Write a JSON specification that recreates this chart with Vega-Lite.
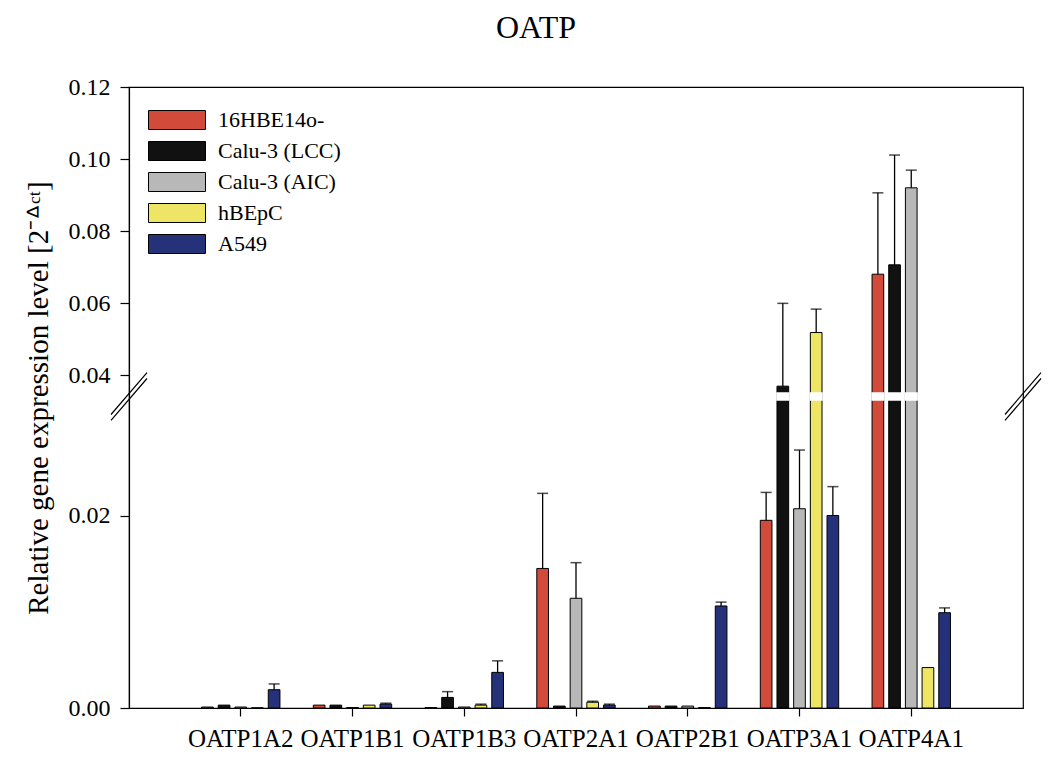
{
  "$schema": "https://vega.github.io/schema/vega-lite/v6.json",
  "autosize": "none",
  "padding": {"left": 129, "top": 87, "right": 27, "bottom": 50},
  "width": 894,
  "height": 621,
  "background": "white",
  "config": {
    "font": "Liberation Serif",
    "view": {"stroke": "black", "strokeWidth": 1.2},
    "axis": {"grid": false, "domainColor": "black", "tickColor": "black", "labelColor": "black", "titleColor": "black", "domainWidth": 1.2, "tickWidth": 1.2}
  },
  "title": {"text": "OATP", "fontSize": 32, "fontWeight": "normal", "font": "Liberation Serif", "color": "black", "anchor": "middle", "dx": -40, "offset": 30},
  "datasets": {
    "bars": [
      {"gene": "OATP1A2", "cell": "16HBE14o-", "value": 0.0001, "upper": null},
      {"gene": "OATP1A2", "cell": "Calu-3 (LCC)", "value": 0.0003, "upper": null},
      {"gene": "OATP1A2", "cell": "Calu-3 (AIC)", "value": 0.0001, "upper": null},
      {"gene": "OATP1A2", "cell": "hBEpC", "value": 0.00002, "upper": null},
      {"gene": "OATP1A2", "cell": "A549", "value": 0.0019, "upper": 0.0025},
      {"gene": "OATP1B1", "cell": "16HBE14o-", "value": 0.0003, "upper": null},
      {"gene": "OATP1B1", "cell": "Calu-3 (LCC)", "value": 0.0003, "upper": null},
      {"gene": "OATP1B1", "cell": "Calu-3 (AIC)", "value": 0.00005, "upper": null},
      {"gene": "OATP1B1", "cell": "hBEpC", "value": 0.0003, "upper": null},
      {"gene": "OATP1B1", "cell": "A549", "value": 0.0004, "upper": 0.0005},
      {"gene": "OATP1B3", "cell": "16HBE14o-", "value": 0.00005, "upper": null},
      {"gene": "OATP1B3", "cell": "Calu-3 (LCC)", "value": 0.0011, "upper": 0.0017},
      {"gene": "OATP1B3", "cell": "Calu-3 (AIC)", "value": 0.0001, "upper": null},
      {"gene": "OATP1B3", "cell": "hBEpC", "value": 0.0003, "upper": 0.0004},
      {"gene": "OATP1B3", "cell": "A549", "value": 0.0037, "upper": 0.0049},
      {"gene": "OATP2A1", "cell": "16HBE14o-", "value": 0.0145, "upper": 0.0223},
      {"gene": "OATP2A1", "cell": "Calu-3 (LCC)", "value": 0.0002, "upper": null},
      {"gene": "OATP2A1", "cell": "Calu-3 (AIC)", "value": 0.0114, "upper": 0.0151},
      {"gene": "OATP2A1", "cell": "hBEpC", "value": 0.0006, "upper": 0.0007},
      {"gene": "OATP2A1", "cell": "A549", "value": 0.0003, "upper": 0.0004},
      {"gene": "OATP2B1", "cell": "16HBE14o-", "value": 0.0002, "upper": null},
      {"gene": "OATP2B1", "cell": "Calu-3 (LCC)", "value": 0.0002, "upper": null},
      {"gene": "OATP2B1", "cell": "Calu-3 (AIC)", "value": 0.0002, "upper": null},
      {"gene": "OATP2B1", "cell": "hBEpC", "value": 0.00005, "upper": null},
      {"gene": "OATP2B1", "cell": "A549", "value": 0.0106, "upper": 0.011},
      {"gene": "OATP3A1", "cell": "16HBE14o-", "value": 0.0195, "upper": 0.0224},
      {"gene": "OATP3A1", "cell": "Calu-3 (LCC)", "value": 0.0369, "upper": 0.0599},
      {"gene": "OATP3A1", "cell": "Calu-3 (AIC)", "value": 0.0207, "upper": 0.0268},
      {"gene": "OATP3A1", "cell": "hBEpC", "value": 0.0518, "upper": 0.0583},
      {"gene": "OATP3A1", "cell": "A549", "value": 0.02, "upper": 0.023},
      {"gene": "OATP4A1", "cell": "16HBE14o-", "value": 0.068, "upper": 0.0906},
      {"gene": "OATP4A1", "cell": "Calu-3 (LCC)", "value": 0.0706, "upper": 0.1011},
      {"gene": "OATP4A1", "cell": "Calu-3 (AIC)", "value": 0.092, "upper": 0.0969},
      {"gene": "OATP4A1", "cell": "hBEpC", "value": 0.0042, "upper": null},
      {"gene": "OATP4A1", "cell": "A549", "value": 0.0099, "upper": 0.0104}
    ],
    "breaks": [{"at": 0.0335}]
  },
  "layer": [
    {
      "data": {"name": "bars"},
      "encoding": {
        "x": {
          "field": "gene", "type": "nominal", "sort": null,
          "scale": {"paddingInner": 0, "paddingOuter": 0.5},
          "axis": {"title": null, "labelAngle": 0, "labelFontSize": 25, "labelFont": "Liberation Serif", "tickSize": 8, "labelPadding": 10}
        },
        "xOffset": {
          "field": "cell", "type": "nominal",
          "sort": ["16HBE14o-", "Calu-3 (LCC)", "Calu-3 (AIC)", "hBEpC", "A549"],
          "scale": {"paddingInner": 0.3, "paddingOuter": 1.82}
        }
      },
      "layer": [
        {
          "mark": {"type": "bar", "stroke": "black", "strokeWidth": 1},
          "encoding": {
            "y": {
              "field": "value", "type": "quantitative", "stack": null,
              "scale": {"type": "linear", "domain": [0, 0.032, 0.035, 0.12], "range": [621, 313, 306, 0], "nice": false, "zero": false},
              "axis": {
                "values": [0, 0.02, 0.04, 0.06, 0.08, 0.1, 0.12], "format": ".2f",
                "title": "Relative gene expression level [2⁻ᐞᶜᵗ]",
                "titleFont": "Liberation Serif", "titleFontSize": 29, "titleFontWeight": "normal", "titlePadding": 15,
                "labelFontSize": 24, "labelFont": "Liberation Serif", "tickSize": 9, "labelPadding": 10
              }
            },
            "color": {
              "field": "cell", "type": "nominal",
              "scale": {"domain": ["16HBE14o-", "Calu-3 (LCC)", "Calu-3 (AIC)", "hBEpC", "A549"], "range": ["#d24b3a", "#111111", "#b8b8b8", "#efe565", "#253279"]},
              "legend": {
                "title": null, "orient": "none", "legendX": 37, "legendY": 22,
                "symbolType": "M-3,-1L3,-1L3,1L-3,1Z", "symbolSize": 361,
                "symbolStrokeColor": "black", "symbolStrokeWidth": 1, "symbolOpacity": 1,
                "labelFont": "Liberation Serif", "labelFontSize": 22, "labelColor": "black", "labelOffset": 30, "rowPadding": 7
              }
            }
          }
        },
        {
          "transform": [{"filter": "datum.value > 0.035"}],
          "mark": {"type": "bar", "fill": "white", "stroke": "white", "strokeWidth": 1.5},
          "encoding": {
            "y": {"datum": 0.032, "type": "quantitative"},
            "y2": {"datum": 0.035}
          }
        },
        {
          "transform": [{"filter": {"field": "upper", "valid": true}}],
          "mark": {"type": "rule", "color": "black", "strokeWidth": 1.3},
          "encoding": {
            "y": {"field": "value", "type": "quantitative"},
            "y2": {"field": "upper"}
          }
        },
        {
          "transform": [{"filter": {"field": "upper", "valid": true}}],
          "mark": {"type": "tick", "color": "black", "orient": "horizontal", "size": 11, "thickness": 1.5},
          "encoding": {
            "y": {"field": "upper", "type": "quantitative"}
          }
        }
      ]
    },
    {
      "data": {"name": "breaks"},
      "mark": {"type": "point", "shape": "M-1,1L1,-1.33M-1,1.33L1,-1", "size": 1296, "filled": false, "stroke": "black", "strokeWidth": 1.2, "opacity": 1},
      "encoding": {
        "x": {"value": 0},
        "y": {"field": "at", "type": "quantitative"}
      }
    },
    {
      "data": {"name": "breaks"},
      "mark": {"type": "point", "shape": "M-1,1L1,-1.33M-1,1.33L1,-1", "size": 1296, "filled": false, "stroke": "black", "strokeWidth": 1.2, "opacity": 1},
      "encoding": {
        "x": {"value": "width"},
        "y": {"field": "at", "type": "quantitative"}
      }
    }
  ]
}
